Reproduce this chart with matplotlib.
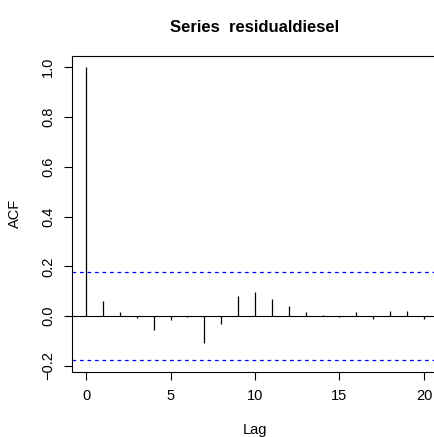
"""ACF of residualdiesel, in the style of R's acf() plot."""

import numpy as np
import matplotlib.pyplot as plt

plt.rcParams['font.family'] = ['Liberation Sans', 'DejaVu Sans']

lags = list(range(21))
acf_values = [1.0, 0.060, 0.017, -0.008, -0.054, -0.014, -0.002, -0.108, -0.033,
              0.083, 0.099, 0.068, 0.040, 0.018, 0.006, -0.004, 0.016, -0.012,
              0.020, 0.020, -0.010]
conf_limit = 0.177
title = "Series  residualdiesel"


def main() -> None:
    fig = plt.figure(figsize=(4.35, 4.37), dpi=100)
    ax = fig.add_axes([72.5 / 435, 65 / 437, 365 / 435, 316.5 / 437])

    ax.vlines(lags, 0, acf_values, colors="black", linewidth=0.9)
    ax.axhline(0, color="black", linewidth=0.8)
    for c in (conf_limit, -conf_limit):
        ax.axhline(c, color="blue", linewidth=0.9, linestyle=(0, (3, 3)))

    ax.set_xlim(-0.8, 20.8)
    ax.set_ylim(-0.224, 1.047)
    ax.set_xticks([0, 5, 10, 15, 20])
    ax.set_yticks([-0.2, 0.0, 0.2, 0.4, 0.6, 0.8, 1.0])
    ax.set_yticklabels(["\u22120.2", "0.0", "0.2", "0.4", "0.6", "0.8", "1.0"],
                       rotation=90, va="center")
    ax.tick_params(direction="out", length=5.5, width=0.8, labelsize=10.5)
    ax.tick_params(axis="x", pad=7)
    ax.tick_params(axis="y", pad=7)
    for s in ax.spines.values():
        s.set_linewidth(0.8)

    ax.set_xlabel("Lag", fontsize=10.5, labelpad=14)
    ax.set_ylabel("ACF", fontsize=10.5, labelpad=14)
    fig.text(255 / 435, 1 - 27 / 437, title,
             ha="center", va="center", fontsize=12, fontweight="bold")

    fig.savefig("out.png", dpi=100)


if __name__ == "__main__":
    main()
